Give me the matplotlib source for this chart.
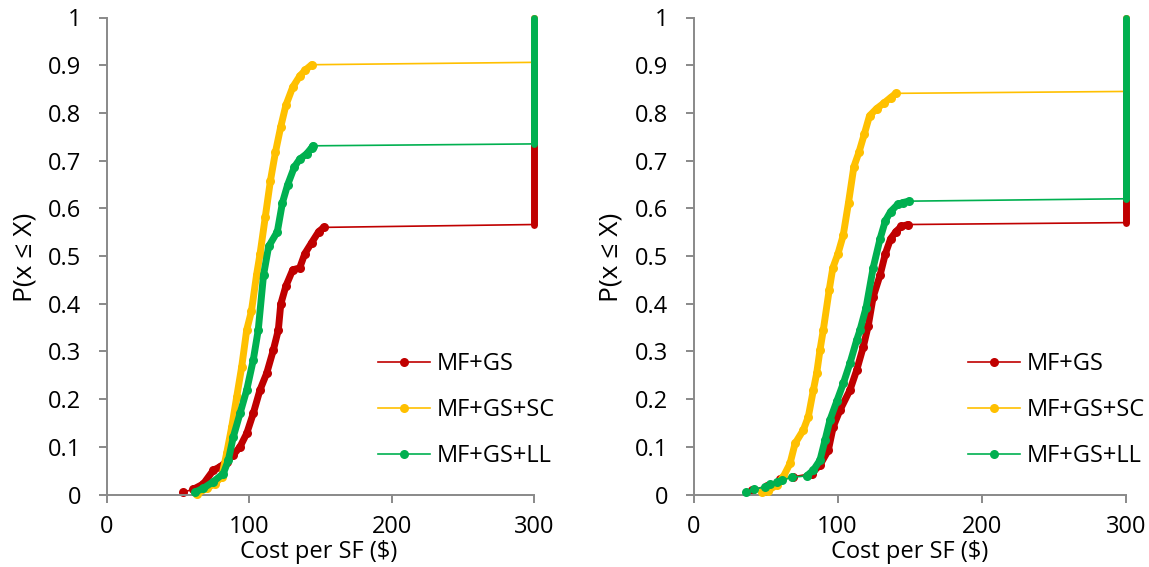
import matplotlib
matplotlib.use("Agg")
import matplotlib.pyplot as plt
from matplotlib.lines import Line2D

# ---------------- data ----------------
series_names = ["MF+GS", "MF+GS+SC", "MF+GS+LL"]
colors = ["#C00000", "#FFC000", "#00B050"]
x_ticks = [0, 100, 200, 300]
y_ticks = [0, 0.1, 0.2, 0.3, 0.4, 0.5, 0.6, 0.7, 0.8, 0.9, 1]
cap_x = 300          # costs beyond the range are plotted at 300
x_label = "Cost per SF ($)"
y_label = "P(x \u2264 X)"

# Left panel
left_gs_x = [53.8, 60.8, 67.8, 74.9, 79.6, 84.2, 88.9, 93.6, 98.3, 102.9, 107.6,
             112.3, 117.0, 120.5, 122.2, 125.8, 130.6, 135.5, 139.1, 143.9, 148.8, 152.4]
left_gs_p = [0.005, 0.011, 0.022, 0.051, 0.058, 0.069, 0.083, 0.100, 0.128, 0.170, 0.219,
             0.254, 0.303, 0.345, 0.399, 0.437, 0.471, 0.475, 0.505, 0.528, 0.551, 0.560]
left_gs_cap = 0.566

left_sc_x = [63.2, 70.2, 76.0, 80.7, 84.2, 87.8, 91.3, 94.8, 98.3, 101.6, 105.2, 107.7,
             111.3, 114.9, 118.5, 122.2, 125.8, 130.6, 135.5, 139.1, 143.9]
left_sc_p = [0.001, 0.013, 0.023, 0.037, 0.086, 0.142, 0.205, 0.268, 0.345, 0.384, 0.460, 0.505,
             0.581, 0.657, 0.718, 0.771, 0.816, 0.854, 0.877, 0.889, 0.901]
left_sc_cap = 0.906

left_ll_x = [62.0, 67.8, 74.9, 81.9, 85.4, 88.9, 93.6, 98.3, 102.9, 106.4, 110.1, 113.7,
             119.8, 123.4, 127.0, 131.8, 135.5, 140.3, 143.9, 144.7]
left_ll_p = [0.005, 0.013, 0.027, 0.044, 0.072, 0.121, 0.170, 0.219, 0.282, 0.345, 0.460, 0.520,
             0.551, 0.612, 0.649, 0.687, 0.703, 0.714, 0.727, 0.731]
left_ll_cap = 0.735

# Right panel
right_gs_x = [40.4, 50.8, 60.0, 69.3, 82.0, 87.8, 93.6, 97.0, 101.7, 108.6, 113.3, 117.9,
              121.3, 124.7, 129.5, 133.2, 136.8, 140.5, 144.2, 149.0]
right_gs_p = [0.009, 0.018, 0.032, 0.037, 0.044, 0.062, 0.093, 0.142, 0.177, 0.219, 0.261, 0.310,
              0.354, 0.414, 0.460, 0.505, 0.536, 0.551, 0.562, 0.566]
right_gs_cap = 0.570

right_sc_x = [47.3, 51.9, 57.7, 62.3, 67.0, 70.5, 76.2, 79.7, 83.2, 85.5, 87.8, 90.1, 94.2,
              96.7, 100.3, 103.9, 107.6, 111.3, 114.9, 118.6, 122.2, 127.1, 131.9, 136.8, 140.5]
right_sc_p = [0.005, 0.008, 0.020, 0.037, 0.065, 0.107, 0.135, 0.163, 0.219, 0.254, 0.303, 0.345,
              0.429, 0.475, 0.505, 0.543, 0.612, 0.687, 0.718, 0.756, 0.794, 0.809, 0.820, 0.832, 0.841]
right_sc_cap = 0.845

right_ll_x = [36.4, 42.2, 49.6, 53.1, 57.7, 61.2, 68.2, 78.6, 83.2, 87.8, 91.3, 94.7, 99.4,
              104.0, 108.6, 113.3, 115.6, 119.8, 124.7, 129.5, 133.2, 136.8, 141.7, 145.3, 149.5]
right_ll_p = [0.005, 0.011, 0.016, 0.021, 0.027, 0.030, 0.036, 0.039, 0.051, 0.072, 0.114, 0.156,
              0.195, 0.233, 0.275, 0.324, 0.345, 0.392, 0.475, 0.536, 0.574, 0.593, 0.608, 0.612, 0.615]
right_ll_cap = 0.620

panels = [
    [(left_gs_x, left_gs_p, left_gs_cap), (left_sc_x, left_sc_p, left_sc_cap),
     (left_ll_x, left_ll_p, left_ll_cap)],
    [(right_gs_x, right_gs_p, right_gs_cap), (right_sc_x, right_sc_p, right_sc_cap),
     (right_ll_x, right_ll_p, right_ll_cap)],
]
# index from which the dense (overlapping-marker) stretch begins, per panel/series
dense_from = [[1, 0, 0], [4, 0, 7]]

# ---------------- style ----------------
plt.rcParams['font.family'] = ['Open Sans', 'DejaVu Sans']
FS = 17
AXIS_GRAY = "#898989"

fig = plt.figure(figsize=(11.49, 5.67), dpi=100)
axes_rects = [
    [106.7 / 1149, 1 - 494.5 / 567, (534.0 - 106.7) / 1149, 477 / 567],
    [693.5 / 1149, 1 - 494.5 / 567, (1125.7 - 693.5) / 1149, 477 / 567],
]
label_pos = [((25, 257), (319, 552)), ((611, 257), (910, 552))]

for pi, rect in enumerate(axes_rects):
    ax = fig.add_axes(rect)
    ax.set_xlim(0, 300)
    ax.set_ylim(0, 1)
    for side in ("top", "right"):
        ax.spines[side].set_visible(False)
    for side in ("left", "bottom"):
        ax.spines[side].set_color(AXIS_GRAY)
        ax.spines[side].set_linewidth(1.4)
    ax.set_xticks(x_ticks)
    ax.set_yticks(y_ticks)
    ax.set_yticklabels([f"{v:g}" for v in y_ticks])
    ax.tick_params(axis="both", direction="out", length=5.8, width=1.4,
                   color=AXIS_GRAY, labelsize=FS, labelcolor="black")
    ax.tick_params(axis="y", pad=12.5)
    ax.tick_params(axis="x", pad=9)

    for si, (xs, ps, cap) in enumerate(panels[pi]):
        c = colors[si]
        d0 = dense_from[pi][si]
        # thin connecting line with markers
        ax.plot(xs, ps, color=c, lw=1.2, marker="o", ms=6.5, mew=0,
                clip_on=False, zorder=2 + si)
        # dense stretch: overlapping markers look like a thick band
        ax.plot(xs[d0:], ps[d0:], color=c, lw=5.0, solid_capstyle="round",
                solid_joinstyle="round", clip_on=False, zorder=2 + si)
        # thin line to the capped values at 300
        ax.plot([xs[-1], cap_x], [ps[-1], cap], color=c, lw=1.2,
                clip_on=False, zorder=2 + si)
        # capped values stacked at 300
        ax.plot([cap_x, cap_x], [cap, 1.0], color=c, lw=5.0,
                solid_capstyle="round", clip_on=False, zorder=2 + si)

    handles = [Line2D([], [], color=c, lw=1.2, marker="o", ms=6.5, mew=0)
               for c in colors]
    ax.legend(handles, series_names, loc="upper left",
              bbox_to_anchor=(0.635, 0.299), frameon=False, fontsize=FS,
              handlelength=2.2, handletextpad=0.3, labelspacing=0.93,
              borderpad=0, borderaxespad=0)

    (ylx, yly), (xlx, xly) = label_pos[pi]
    fig.text(ylx / 1149, 1 - yly / 567, y_label, rotation=90, ha="center",
             va="center", fontsize=19)
    fig.text(xlx / 1149, 1 - xly / 567, x_label, ha="center", va="center",
             fontsize=FS)

fig.savefig("out.png", dpi=100)
